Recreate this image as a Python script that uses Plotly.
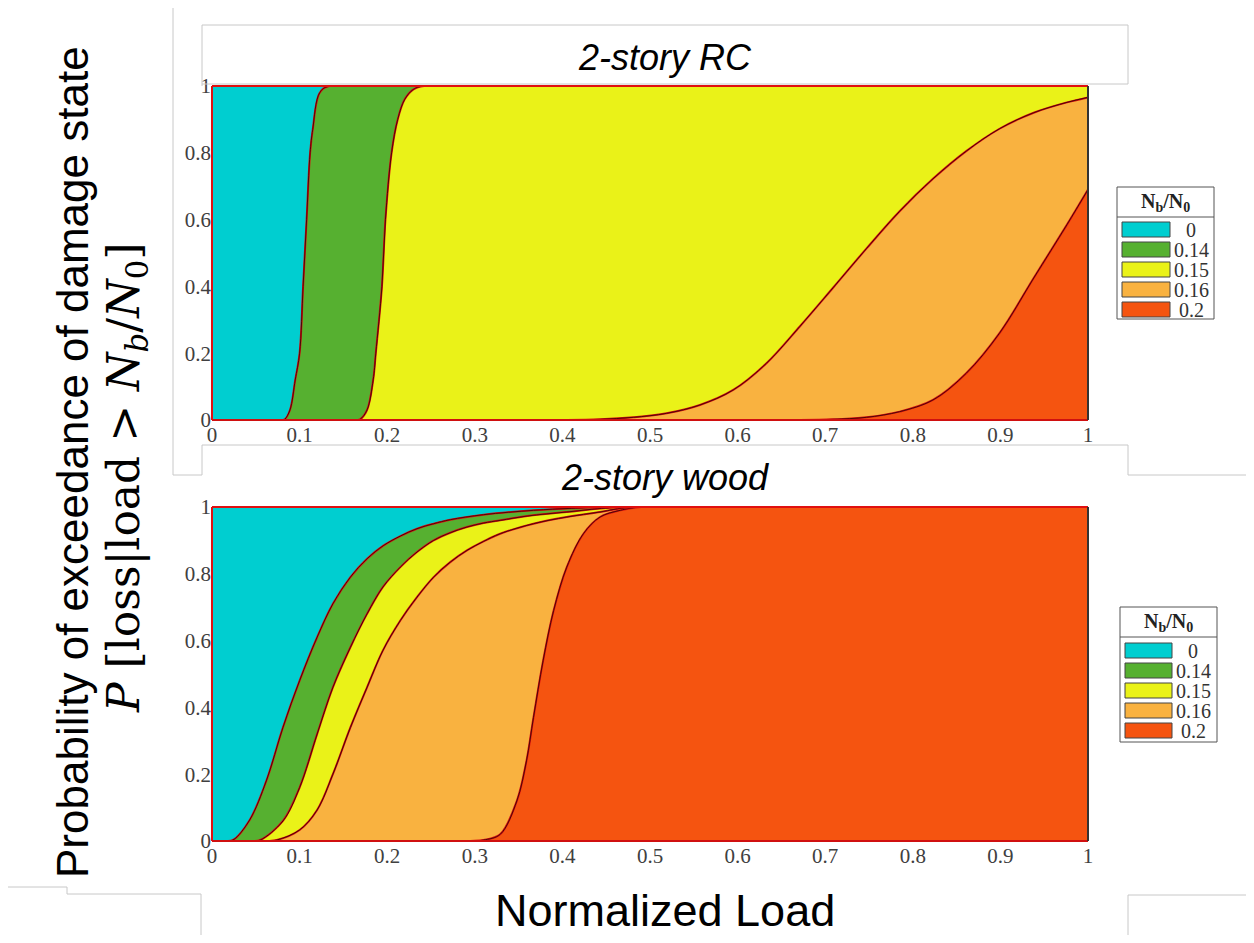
import plotly.graph_objects as go

# ---------------- data ----------------
legend_labels = ["0", "0.14", "0.15", "0.16", "0.2"]
colors = ["#00CED0", "#56B030", "#EAF218", "#F9B240", "#F55410"]
titles = ["2-story RC", "2-story wood"]
x_ticks = [0, 0.1, 0.2, 0.3, 0.4, 0.5, 0.6, 0.7, 0.8, 0.9, 1]
y_ticks = [0, 0.2, 0.4, 0.6, 0.8, 1]

# 2-story RC fragility curves (boundaries between damage states)
rc_a_x = [0, 0.080, 0.083, 0.089, 0.095, 0.100, 0.104, 0.108, 0.112, 0.115, 0.123, 0.134, 1]
rc_a_y = [0, 0, 0.002, 0.03, 0.12, 0.20, 0.40, 0.60, 0.80, 0.87, 0.98, 1, 1]
rc_b_x = [0, 0.165, 0.169, 0.177, 0.184, 0.187, 0.194, 0.198, 0.205, 0.212, 0.220, 0.230, 0.242, 1]
rc_b_y = [0, 0, 0.002, 0.03, 0.12, 0.20, 0.40, 0.60, 0.80, 0.90, 0.96, 0.99, 1, 1]
rc_c_x = [0, 0.367, 0.405, 0.443, 0.481, 0.519, 0.557, 0.595, 0.633, 0.671, 0.709, 0.747,
          0.785, 0.823, 0.861, 0.899, 0.938, 0.976, 1.0]
rc_c_y = [0, 0, 0.0, 0.002, 0.008, 0.02, 0.045, 0.09, 0.17, 0.28, 0.396, 0.513,
          0.625, 0.722, 0.805, 0.872, 0.92, 0.951, 0.966]
rc_d_x = [0, 0.633, 0.671, 0.709, 0.747, 0.785, 0.823, 0.861, 0.899, 0.938, 0.976, 1.0]
rc_d_y = [0, 0, 0.0, 0.002, 0.008, 0.025, 0.06, 0.14, 0.26, 0.425, 0.585, 0.69]

# 2-story wood fragility curves
wd_a_x = [0, 0.015, 0.024, 0.043, 0.062, 0.081, 0.100, 0.120, 0.138, 0.158, 0.177, 0.196,
          0.215, 0.234, 0.253, 0.272, 0.310, 0.367, 0.41, 0.45, 1]
wd_a_y = [0, 0, 0.003, 0.063, 0.18, 0.34, 0.48, 0.61, 0.71, 0.79, 0.845, 0.885,
          0.913, 0.935, 0.95, 0.962, 0.977, 0.99, 0.996, 1, 1]
wd_b_x = [0, 0.045, 0.055, 0.081, 0.100, 0.120, 0.138, 0.158, 0.177, 0.195, 0.215, 0.234,
          0.253, 0.272, 0.291, 0.310, 0.329, 0.360, 0.405, 0.47, 1]
wd_b_y = [0, 0, 0.003, 0.06, 0.16, 0.32, 0.46, 0.58, 0.68, 0.76, 0.82, 0.865,
          0.90, 0.923, 0.94, 0.952, 0.96, 0.973, 0.985, 1, 1]
wd_c_x = [0, 0.062, 0.074, 0.100, 0.120, 0.138, 0.158, 0.177, 0.195, 0.215, 0.234, 0.253,
          0.272, 0.291, 0.310, 0.329, 0.367, 0.405, 0.443, 0.48, 1]
wd_c_y = [0, 0, 0.003, 0.033, 0.093, 0.20, 0.34, 0.46, 0.57, 0.66, 0.73, 0.79,
          0.835, 0.87, 0.897, 0.92, 0.95, 0.97, 0.985, 1, 1]
wd_d_x = [0, 0.295, 0.310, 0.329, 0.348, 0.359, 0.367, 0.378, 0.390, 0.405, 0.424, 0.443, 0.466, 0.49, 1]
wd_d_y = [0, 0, 0.003, 0.02, 0.12, 0.24, 0.37, 0.54, 0.69, 0.82, 0.92, 0.97, 0.99, 1, 1]

top_x = [0, 0, 1]
top_y = [0, 1, 1]

panels = [
    [(rc_d_x, rc_d_y), (rc_c_x, rc_c_y), (rc_b_x, rc_b_y), (rc_a_x, rc_a_y)],
    [(wd_d_x, wd_d_y), (wd_c_x, wd_c_y), (wd_b_x, wd_b_y), (wd_a_x, wd_a_y)],
]

# ---------------- layout helpers ----------------
# page body has an 8px margin, so the figure is drawn at (8, 8)
OFF = 8
W, H = 1254 - 2 * OFF, 943 - 2 * OFF
L, R, T, B = 212, 1088, 86, 841   # target plot-area corners in screenshot pixels


def px(x):
    return (x - L) / (R - L)


def py(y):
    return (B - y) / (B - T)


fig = go.Figure()
axes = [("x", "y"), ("x2", "y2")]
SM = 1.0

# fills: red (below D) -> orange -> yellow -> green -> cyan (above A)
for p, curves in enumerate(panels):
    xa, ya = axes[p]
    fill_colors = [colors[4], colors[3], colors[2], colors[1]]
    for i, (cx, cy) in enumerate(curves):
        fig.add_trace(go.Scatter(
            x=cx, y=cy, xaxis=xa, yaxis=ya, mode="lines",
            line=dict(width=0, shape="spline", smoothing=SM),
            fill="tozeroy" if i == 0 else "tonexty",
            fillcolor=fill_colors[i], showlegend=False, hoverinfo="skip"))
    fig.add_trace(go.Scatter(
        x=top_x, y=top_y, xaxis=xa, yaxis=ya, mode="lines",
        line=dict(width=0), fill="tonexty", fillcolor=colors[0],
        showlegend=False, hoverinfo="skip"))

# boundary lines (red halo + dark core)
for p, curves in enumerate(panels):
    xa, ya = axes[p]
    for cx, cy in curves:
        fig.add_trace(go.Scatter(
            x=cx, y=cy, xaxis=xa, yaxis=ya, mode="lines",
            line=dict(color="#D81010", width=2.0, shape="spline", smoothing=SM),
            showlegend=False, hoverinfo="skip"))
        fig.add_trace(go.Scatter(
            x=cx, y=cy, xaxis=xa, yaxis=ya, mode="lines",
            line=dict(color="#3A0606", width=0.9, shape="spline", smoothing=SM),
            showlegend=False, hoverinfo="skip"))

tickfont = dict(family="Liberation Serif", size=21, color="#404040")
ax_common = dict(range=[0, 1], showgrid=False, zeroline=False, showline=False,
                 ticks="", tickfont=tickfont, fixedrange=True)

fig.update_layout(
    width=W, height=H,
    margin=dict(l=L - OFF, r=(W + OFF) - R, t=T - OFF, b=(H + OFF) - B, pad=0),
    paper_bgcolor="white", plot_bgcolor="white",
    showlegend=False,
    xaxis=dict(domain=[0, 1], anchor="y", tickvals=x_ticks, **ax_common),
    yaxis=dict(domain=[py(420), 1], anchor="x", tickvals=y_ticks, **ax_common),
    xaxis2=dict(domain=[0, 1], anchor="y2", tickvals=x_ticks, **ax_common),
    yaxis2=dict(domain=[0, py(507)], anchor="x2", tickvals=y_ticks, **ax_common),
)

shapes = []
# plot frames
for top, bot in [(86, 420), (507, 841)]:
    for (x0, y0, x1, y1, c) in [
        (L, top, L, bot, "#E01010"),
        (L, top, R, top, "#E01010"),
        (L, bot, R, bot, "#D01010"),
        (R, top, R, bot, "#333333"),
    ]:
        shapes.append(dict(type="line", xref="paper", yref="paper",
                           x0=px(x0), y0=py(y0), x1=px(x1), y1=py(y1),
                           line=dict(color=c, width=2)))

# faint grey panel-border artefacts
grey_segments = [
    (8, 5, 173, 5), (173, 5, 173, 475), (173, 475, 202, 475), (202, 475, 202, 445),
    (202, 445, 1128, 445), (1128, 445, 1128, 475), (1128, 475, 1254, 475),
    (202, 25, 1128, 25), (1128, 25, 1128, 84), (1128, 84, 202, 84), (202, 25, 202, 86),
    (8, 887, 67, 887), (67, 887, 67, 894), (67, 894, 201, 894), (201, 894, 201, 943),
    (1128, 943, 1128, 895), (1128, 895, 1254, 895),
]
for x0, y0, x1, y1 in grey_segments:
    shapes.append(dict(type="line", xref="paper", yref="paper",
                       x0=px(x0), y0=py(y0), x1=px(x1), y1=py(y1),
                       line=dict(color="#C8C8C8", width=1)))

annotations = []
# subplot titles
for t, yc in zip(titles, [57, 477]):
    annotations.append(dict(text=f"<i>{t}</i>", xref="paper", yref="paper",
                            x=px(665), y=py(yc), showarrow=False,
                            xanchor="center", yanchor="middle",
                            font=dict(family="Liberation Sans", size=36, color="black")))

# axis titles
annotations.append(dict(text="Normalized Load", xref="paper", yref="paper",
                        x=px(665), y=py(910), showarrow=False,
                        xanchor="center", yanchor="middle",
                        font=dict(family="Liberation Sans", size=45, color="black")))
annotations.append(dict(text="Probability of exceedance of damage state",
                        xref="paper", yref="paper", x=px(72), y=py(462),
                        showarrow=False, textangle=-90, xanchor="center", yanchor="middle",
                        font=dict(family="Liberation Sans", size=44, color="black")))
annotations.append(dict(text="<i>P</i> [loss|load > <i>N<sub>b</sub></i>/<i>N</i><sub>0</sub>]",
                        xref="paper", yref="paper", x=px(126), y=py(478),
                        showarrow=False, textangle=-90, xanchor="center", yanchor="middle",
                        font=dict(family="DejaVu Serif", size=44, color="black")))

# manual legends
legend_boxes = [
    dict(x0=1117, x1=1214, y0=187, y1=319, sep=217, rx0=1122, rx1=1170, first=222),
    dict(x0=1120, x1=1217, y0=607, y1=742, sep=637, rx0=1125, rx1=1172, first=643),
]
for lb in legend_boxes:
    shapes.append(dict(type="rect", xref="paper", yref="paper",
                       x0=px(lb["x0"]), x1=px(lb["x1"]), y0=py(lb["y0"]), y1=py(lb["y1"]),
                       line=dict(color="#555555", width=1), fillcolor="white"))
    shapes.append(dict(type="line", xref="paper", yref="paper",
                       x0=px(lb["x0"]), x1=px(lb["x1"]), y0=py(lb["sep"]), y1=py(lb["sep"]),
                       line=dict(color="#555555", width=1)))
    annotations.append(dict(text="<b>N<sub>b</sub>/N<sub>0</sub></b>",
                            xref="paper", yref="paper",
                            x=px((lb["x0"] + lb["x1"]) / 2), y=py((lb["y0"] + lb["sep"]) / 2),
                            showarrow=False, xanchor="center", yanchor="middle",
                            font=dict(family="Liberation Serif", size=20, color="#222222")))
    for i, (lab, col) in enumerate(zip(legend_labels, colors)):
        ytop = lb["first"] + 20 * i
        shapes.append(dict(type="rect", xref="paper", yref="paper",
                           x0=px(lb["rx0"]), x1=px(lb["rx1"]), y0=py(ytop), y1=py(ytop + 15),
                           line=dict(color="#444444", width=1), fillcolor=col))
        annotations.append(dict(text=lab, xref="paper", yref="paper",
                                x=px(lb["rx1"] + 21), y=py(ytop + 8),
                                showarrow=False, xanchor="center", yanchor="middle",
                                font=dict(family="Liberation Serif", size=20, color="#333333")))

fig.update_layout(shapes=shapes, annotations=annotations)
fig.write_html("out.html")
